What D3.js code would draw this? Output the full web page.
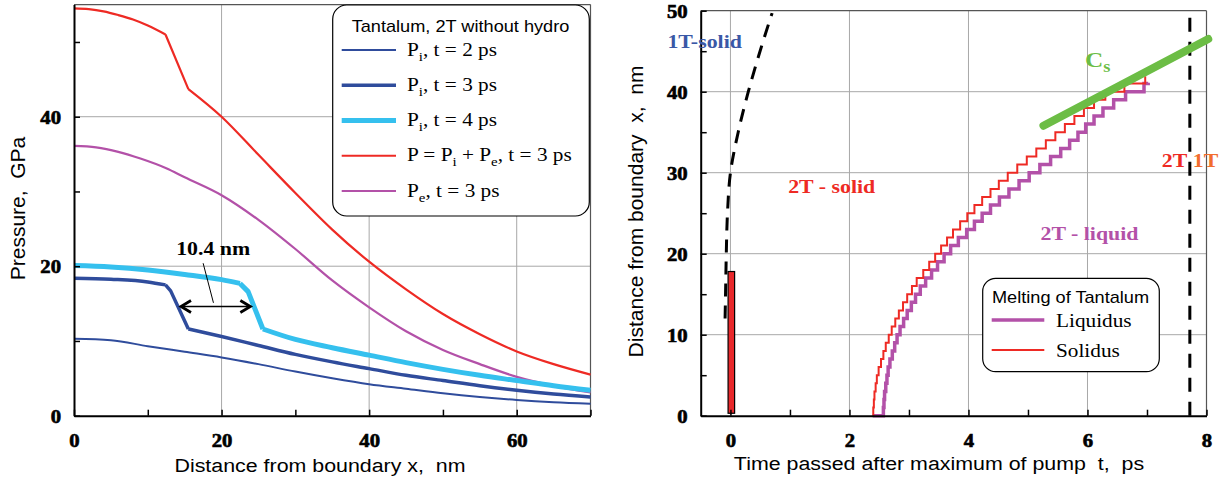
<!DOCTYPE html>
<html>
<head>
<meta charset="UTF-8">
<title>Tantalum: pressure profiles and melting front</title>
<style>
  body { margin: 0; background: #fff; }
  text { white-space: pre; }
  .grid line { stroke: #a8a8a8; stroke-width: 1; }
  .frame { stroke: #555; stroke-width: 1.2; }
  .axis path { stroke: #000; stroke-width: 2; }
  .axis line { stroke: #000; stroke-width: 1.5; }
</style>
<script src="https://d3js.org/d3.v7.min.js"></script>
</head>
<body>
<svg id="chart" width="1225" height="479"></svg>
<script>
// ---------- left panel data: x (nm), pressure (GPa) ----------
var piT2 = [[0,10.3],[5,10.1],[10,9.3],[15,8.55],[20,7.8],[25,6.9],[30,5.9],[35,5.0],[40,4.2],[45,3.6],[50,3.0],[55,2.5],[60,2.1],[65,1.8],[70,1.6]];
var piT3 = [[0,18.4],[5,18.25],[10,17.9],[12.4,17.5],[13.1,16.7],[15.5,11.6],[20,10.6],[25,9.4],[30,8.2],[35,7.2],[40,6.3],[45,5.4],[50,4.7],[55,4.0],[60,3.4],[65,2.9],[70,2.5]];
var piT4 = [[0,20.1],[5,19.9],[10,19.5],[15,18.9],[20,18.2],[22.5,17.7],[23.6,16.6],[25.6,11.6],[30,10.2],[35,9.1],[40,8.1],[45,7.1],[50,6.2],[55,5.4],[60,4.7],[65,4.0],[70,3.4]];
var pTotT3 = [[0,54.5],[2,54.4],[4,54.1],[6,53.6],[8,53.0],[10,52.2],[12.4,51.0],[15.5,43.7],[20,40.0],[25,34.9],[30,29.8],[35,24.9],[40,20.6],[45,16.9],[50,13.6],[55,10.9],[60,8.6],[65,6.9],[70,5.5]];
var peT3 = [[0,36.1],[3,35.9],[6,35.3],[9,34.4],[12.5,33.1],[15,31.9],[20,29.5],[25,26.2],[30,22.3],[35,18.1],[40,14.5],[45,11.3],[50,8.8],[55,6.9],[60,5.2],[65,4.0],[70,3.1]];

var xTicksL = [0,10,20,30,40,50,60,70];
var yTicksL = [0,10,20,30,40,50];
var xGridL = [20,40,60];
var yGridL = [20,40];

// ---------- right panel data: t (ps), x (nm) ----------
var solidus = [[2.39,0],[2.40,1],[2.41,2],[2.42,3],[2.44,4],[2.46,5],[2.49,6],[2.53,7],[2.57,8],[2.61,9],[2.66,10],[2.71,11],[2.77,12],[2.83,13],[2.90,14],[2.97,15],[3.05,16],[3.13,17],[3.24,18],[3.34,19],[3.44,20],[3.54,21],[3.64,22],[3.74,23],[3.86,24],[3.98,25],[4.10,26],[4.23,27],[4.37,28],[4.51,29],[4.66,30],[4.82,31],[4.98,32],[5.14,33],[5.30,34],[5.46,35],[5.62,36],[5.78,37],[5.94,38],[6.11,39],[6.30,40],[6.62,41],[6.97,41.9]];
var liquidus = [[2.39,0],[2.57,0],[2.57,1],[2.58,2],[2.59,3],[2.61,4],[2.63,5],[2.65,6],[2.68,7],[2.72,8],[2.76,9],[2.80,10],[2.85,11],[2.91,12],[2.97,13],[3.04,14],[3.11,15],[3.19,16],[3.28,17],[3.38,18],[3.48,19],[3.59,20],[3.70,21],[3.83,22],[3.97,23],[4.10,24],[4.23,25],[4.37,26],[4.52,27],[4.68,28],[4.85,29],[5.02,30],[5.20,31],[5.38,32],[5.55,33],[5.70,34],[5.84,35],[5.97,36],[6.11,37],[6.26,38],[6.44,39],[6.64,40],[6.95,41],[7.02,41.1]];
var oneTBoundary = [[-0.09,12],[-0.08,16],[-0.07,20],[-0.05,25],[0,30],[0.13,35],[0.3,40],[0.42,43.1],[0.56,46.5],[0.7,49.7]];
var heatedLayer = {t0: -0.04, t1: 0.07, x0: 0.3, x1: 17.8};
var csLine = [[5.26,35.8],[8.03,46.5]];
var edgeTime = 7.72;

var xTicksR = [0,1,2,3,4,5,6,7,8];
var yTicksR = [0,5,10,15,20,25,30,35,40,45,50];
var xGridR = [0,2,4,6];
var yGridR = [10,20,30,40];

// ---------- colours / fonts ----------
var BLUE = "#2f4c9c", CYAN = "#35c0ee", RED = "#ee2a24", MAGENTA = "#b351a8",
    GREEN = "#6cbd45", ORANGE = "#f26d2d", LBLUE = "#3a58a6";
var SERIF = "Liberation Serif, Times New Roman, serif";
var SANS = "Liberation Sans, Arial, sans-serif";
var SX = 1.15;   // the original text is a little wide

var svg = d3.select("#chart");
svg.append("rect").attr("width", 1225).attr("height", 479).attr("fill", "#fff");

var xL = d3.scaleLinear().domain([0,70]).range([74,590.5]);
var yL = d3.scaleLinear().domain([0,55]).range([415.7,4.6]);
var xR = d3.scaleLinear().domain([-0.5,8]).range([700.7,1206.5]);
var yR = d3.scaleLinear().domain([0,50]).range([415.7,10.7]);

function wideText(g, x, y, anchor) {
  return g.append("text")
    .attr("transform", "translate(" + x + "," + y + ") scale(" + SX + ",1)")
    .attr("text-anchor", anchor || "start");
}
// parts: [text, isSub]
function addParts(t, parts, subSize) {
  var down = false;
  parts.forEach(function(p) {
    var s = t.append("tspan").text(p[0]);
    if (p[1]) { s.attr("font-size", subSize).attr("dy", down ? 0 : 5); down = true; }
    else if (down) { s.attr("dy", -5); down = false; }
  });
  return t;
}

function grid(g, xs, ys, xv, yv) {
  var gg = g.append("g").attr("class", "grid");
  gg.selectAll(".v").data(xv).enter().append("line")
    .attr("x1", function(d){ return xs(d); }).attr("x2", function(d){ return xs(d); })
    .attr("y1", ys.range()[0]).attr("y2", ys.range()[1]);
  gg.selectAll(".h").data(yv).enter().append("line")
    .attr("y1", function(d){ return ys(d); }).attr("y2", function(d){ return ys(d); })
    .attr("x1", xs.range()[0]).attr("x2", xs.range()[1]);
  // top and right frame
  g.append("line").attr("class", "frame")
    .attr("x1", xs.range()[0]).attr("x2", xs.range()[1]).attr("y1", ys.range()[1]).attr("y2", ys.range()[1]);
  g.append("line").attr("class", "frame")
    .attr("x1", xs.range()[1]).attr("x2", xs.range()[1]).attr("y1", ys.range()[0]).attr("y2", ys.range()[1]);
}

function tickFont(sel) {
  sel.attr("font-family", SERIF).attr("font-size", 18).attr("font-weight", 700)
    .attr("fill", "#000").attr("stroke", "#000").attr("stroke-width", 0.6);
}

function axes(g, xs, ys, xt, yt, xStep, yStep) {
  var ax = g.append("g").attr("class", "axis")
    .attr("transform", "translate(0," + ys.range()[0] + ")")
    .call(d3.axisBottom(xs).tickValues(xt).tickSizeInner(-6).tickSizeOuter(0)
      .tickFormat(function(d){ return d % xStep === 0 ? d : ""; }));
  ax.selectAll("text").attr("y", 31.3).attr("dy", null).attr("transform", "scale(" + SX + ",1)").call(tickFont);
  var ay = g.append("g").attr("class", "axis")
    .attr("transform", "translate(" + xs.range()[0] + ",0)")
    .call(d3.axisLeft(ys).tickValues(yt).tickSizeInner(-6).tickSizeOuter(0)
      .tickFormat(function(d){ return d % yStep === 0 ? d : ""; }));
  ay.selectAll("text").attr("x", 0).attr("dy", "0.35em")
    .attr("transform", "translate(-13,0) scale(" + SX + ",1)").call(tickFont);
}

// ================= LEFT PANEL =================
var left = svg.append("g");
grid(left, xL, yL, xGridL, yGridL);

var smoothL = d3.line().x(function(d){ return xL(d[0]); }).y(function(d){ return yL(d[1]); }).curve(d3.curveMonotoneX);
var straightL = d3.line().x(function(d){ return xL(d[0]); }).y(function(d){ return yL(d[1]); });
var seriesL = [
  {data: peT3, color: MAGENTA, w: 2.2, front: null},
  {data: pTotT3, color: RED, w: 2.2, front: [12.4, 15.5]},
  {data: piT2, color: BLUE, w: 2, front: null},
  {data: piT3, color: BLUE, w: 3.5, front: [12.4, 15.5]},
  {data: piT4, color: CYAN, w: 5, front: [22.5, 25.6]}
];
// smooth profile, but the shock front itself is drawn straight
function profilePath(s) {
  if (!s.front) return smoothL(s.data);
  var a = s.data.filter(function(d){ return d[0] <= s.front[0]; });
  var b = s.data.filter(function(d){ return d[0] >= s.front[0] && d[0] <= s.front[1]; });
  var c = s.data.filter(function(d){ return d[0] >= s.front[1]; });
  return smoothL(a) + straightL(b) + smoothL(c);
}
left.selectAll(".curve").data(seriesL).enter().append("path")
  .attr("fill", "none")
  .attr("stroke", function(d){ return d.color; })
  .attr("stroke-width", function(d){ return d.w; })
  .attr("stroke-linejoin", "round")
  .attr("d", profilePath);

axes(left, xL, yL, xTicksL, yTicksL, 20, 20);

// 10.4 nm annotation
var ay0 = yL(14.6), ax0 = xL(14.5), ax1 = xL(23.9);
left.append("line").attr("x1", ax0).attr("x2", ax1).attr("y1", ay0).attr("y2", ay0)
  .attr("stroke", "#000").attr("stroke-width", 1.5);
left.append("path")
  .attr("d", "M" + (ax0 + 10) + "," + (ay0 - 6) + "L" + ax0 + "," + ay0 + "L" + (ax0 + 10) + "," + (ay0 + 6) +
             "M" + (ax1 - 10) + "," + (ay0 - 6) + "L" + ax1 + "," + ay0 + "L" + (ax1 - 10) + "," + (ay0 + 6))
  .attr("fill", "none").attr("stroke", "#000").attr("stroke-width", 2.8);
left.append("line").attr("x1", xL(17.5)).attr("y1", yL(20.4)).attr("x2", xL(18.9)).attr("y2", yL(15.1))
  .attr("stroke", "#000").attr("stroke-width", 1);
wideText(left, xL(18.86), yL(21.5), "middle")
  .attr("font-family", SERIF).attr("font-weight", "bold").attr("font-size", 19).text("10.4 nm");

// axis titles
wideText(left, 320, 471.7, "middle").attr("font-family", SANS).attr("font-size", 18.6)
  .text("Distance from boundary x,  nm");
left.append("text").attr("transform", "translate(24.5,208.5) rotate(-90)").attr("text-anchor", "middle")
  .attr("font-family", SANS).attr("font-size", 21).text("Pressure,  GPa");

// legend
var legL = left.append("g");
legL.append("rect").attr("x", 332.7).attr("y", 5).attr("width", 256.6).attr("height", 211).attr("rx", 14)
  .attr("fill", "#fff").attr("stroke", "#000").attr("stroke-width", 1.2);
wideText(legL, 460.5, 31.5, "middle").attr("font-family", SANS).attr("font-size", 15.8)
  .text("Tantalum, 2T without hydro");
var legLabels = [
  [["P"],["i",1],[", t = 2 ps"]],
  [["P"],["i",1],[", t = 3 ps"]],
  [["P"],["i",1],[", t = 4 ps"]],
  [["P = P"],["i",1],[" + P"],["e",1],[", t = 3 ps"]],
  [["P"],["e",1],[", t = 3 ps"]]
];
var legOrder = [2, 3, 4, 1, 0];
legOrder.forEach(function(si, i) {
  var s = seriesL[si], y = 50 + i * 35.25;
  legL.append("line").attr("x1", 341.7).attr("x2", 396).attr("y1", y).attr("y2", y)
    .attr("stroke", s.color).attr("stroke-width", s.w);
  addParts(wideText(legL, 407, y + 5.5, "start").attr("font-family", SERIF).attr("font-size", 18.5),
    legLabels[i], 13);
});

// ================= RIGHT PANEL =================
var right = svg.append("g");
grid(right, xR, yR, xGridR, yGridR);

var lineR = d3.line().x(function(d){ return xR(d[0]); }).y(function(d){ return yR(d[1]); });

right.append("path").attr("fill", "none").attr("stroke", "#000").attr("stroke-width", 3)
  .attr("stroke-dasharray", "13,9")
  .attr("d", lineR.curve(d3.curveMonotoneY)(oneTBoundary));
right.append("rect")
  .attr("x", xR(heatedLayer.t0)).attr("width", xR(heatedLayer.t1) - xR(heatedLayer.t0))
  .attr("y", yR(heatedLayer.x1)).attr("height", yR(heatedLayer.x0) - yR(heatedLayer.x1))
  .attr("fill", "#e8282b").attr("stroke", "#000").attr("stroke-width", 1.2);
right.append("line").attr("x1", xR(edgeTime)).attr("x2", xR(edgeTime)).attr("y1", yR(0)).attr("y2", yR(49.5))
  .attr("stroke", "#000").attr("stroke-width", 3).attr("stroke-dasharray", "14,10");

right.append("path").attr("fill", "none").attr("stroke", MAGENTA).attr("stroke-width", 3.5)
  .attr("d", lineR.curve(d3.curveStepAfter)(liquidus));
right.append("path").attr("fill", "none").attr("stroke", RED).attr("stroke-width", 2)
  .attr("d", lineR.curve(d3.curveStepAfter)(solidus));
right.append("path").attr("fill", "none").attr("stroke", GREEN).attr("stroke-width", 8)
  .attr("stroke-linecap", "round")
  .attr("d", lineR.curve(d3.curveLinear)(csLine));

axes(right, xR, yR, xTicksR, yTicksR, 2, 10);

// region labels
var regionLabels = [
  {parts: [["1T-solid"]], t: -1.06, x: 45.4, color: LBLUE},
  {parts: [["2T - solid"]], t: 0.97, x: 27.5, color: RED},
  {parts: [["2T - liquid"]], t: 5.21, x: 21.7, color: MAGENTA},
  {parts: [["2T"]], t: 7.25, x: 30.7, color: RED},
  {parts: [["1T"]], t: 7.77, x: 30.7, color: ORANGE}
];
regionLabels.forEach(function(l) {
  addParts(wideText(right, xR(l.t), yR(l.x), "start").attr("font-family", SERIF).attr("font-weight", "bold")
    .attr("font-size", 19).attr("fill", l.color), l.parts, 14);
});
addParts(wideText(right, xR(5.96), yR(43.1), "start").attr("font-family", SERIF).attr("font-weight", "bold")
  .attr("font-size", 22).attr("fill", GREEN), [["C"],["s",1]], 16);

// axis titles
wideText(right, 939, 470, "middle").attr("font-family", SANS).attr("font-size", 18.6)
  .text("Time passed after maximum of pump  t,  ps");
right.append("text").attr("transform", "translate(643,211.5) rotate(-90)").attr("text-anchor", "middle")
  .attr("font-family", SANS).attr("font-size", 21).text("Distance from boundary  x,  nm");

// legend
var legR = right.append("g");
legR.append("rect").attr("x", 982.7).attr("y", 278.3).attr("width", 176.6).attr("height", 93.4).attr("rx", 13)
  .attr("fill", "#fff").attr("stroke", "#000").attr("stroke-width", 1.2);
wideText(legR, 1070.5, 303.3, "middle").attr("font-family", SANS).attr("font-size", 15.8).text("Melting of Tantalum");
[{name: "Liquidus", color: MAGENTA, w: 3.5}, {name: "Solidus", color: RED, w: 2}].forEach(function(e, i) {
  var y = 320 + i * 30;
  legR.append("line").attr("x1", 991.7).attr("x2", 1044.3).attr("y1", y).attr("y2", y)
    .attr("stroke", e.color).attr("stroke-width", e.w);
  wideText(legR, 1056, y + 7, "start").attr("font-family", SERIF).attr("font-size", 18.5).text(e.name);
});
</script>
</body>
</html>
